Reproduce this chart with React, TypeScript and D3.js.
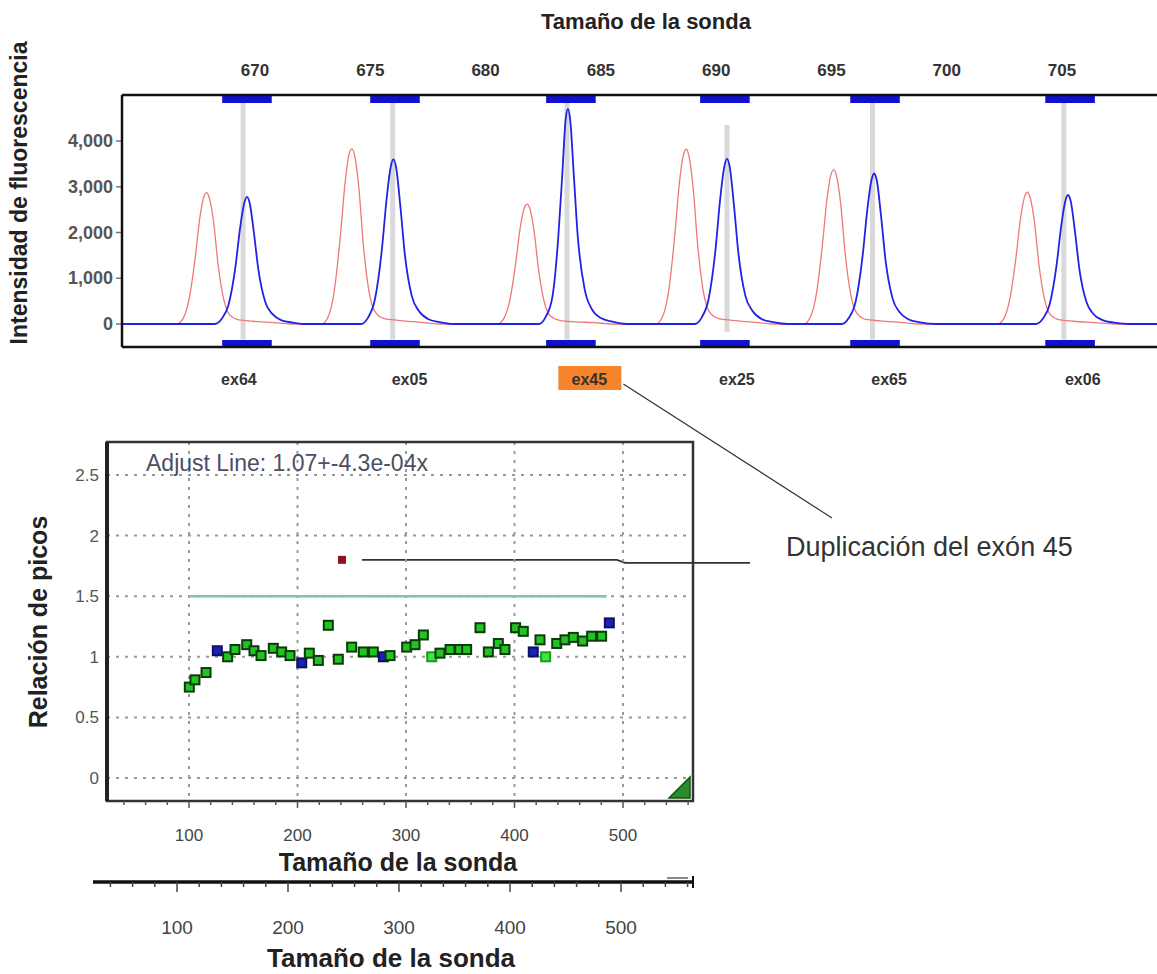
import React from "react";
import * as d3 from "d3";

// electropherogram traces: [probe size (nt), fluorescence]
const redTrace: [number, number][] = [
  [664.2, 0],
  [666.6, 0], [666.9, 140], [667.15, 570], [667.4, 1430], [667.6, 2300], [667.78, 2780], [667.9, 2870],
  [668.02, 2750], [668.2, 2240], [668.4, 1290], [668.65, 520], [668.9, 200], [669.3, 90], [669.9, 60], [670.8, 30], [671.6, 0],
  [672.9, 0], [673.2, 190], [673.45, 770], [673.7, 1920], [673.9, 3060], [674.08, 3720], [674.2, 3830],
  [674.32, 3680], [674.5, 2990], [674.7, 1720], [674.95, 690], [675.2, 270], [675.6, 120], [676.2, 80], [677.1, 40], [678, 0],
  [680.5, 0], [680.8, 130], [681.05, 520], [681.3, 1310], [681.5, 2100], [681.68, 2540], [681.8, 2620],
  [681.92, 2520], [682.1, 2040], [682.3, 1180], [682.55, 470], [682.8, 180], [683.2, 80], [683.8, 50], [684.7, 30], [685.5, 0],
  [687.4, 0], [687.7, 190], [687.95, 760], [688.2, 1910], [688.4, 3060], [688.58, 3700], [688.7, 3820],
  [688.82, 3670], [689.0, 2980], [689.2, 1720], [689.45, 690], [689.7, 270], [690.1, 120], [690.7, 80], [691.6, 40], [692.5, 0],
  [693.8, 0], [694.1, 170], [694.35, 670], [694.6, 1690], [694.8, 2700], [694.98, 3270], [695.1, 3370],
  [695.22, 3240], [695.4, 2630], [695.6, 1520], [695.85, 610], [696.1, 240], [696.5, 100], [697.1, 70], [698.0, 35], [698.9, 0],
  [702.2, 0], [702.5, 140], [702.75, 580], [703.0, 1440], [703.2, 2300], [703.38, 2790], [703.5, 2880],
  [703.62, 2760], [703.8, 2250], [704.0, 1300], [704.25, 520], [704.5, 200], [704.9, 90], [705.5, 60], [706.4, 30], [707.3, 0],
  [709.2, 0],
];

const blueTrace: [number, number][] = [
  [664.2, 0],
  [668.25, 0], [668.55, 110], [668.85, 420], [669.15, 1250], [669.35, 2090], [669.53, 2640], [669.65, 2780],
  [669.77, 2640], [669.95, 2000], [670.15, 1170], [670.45, 470], [670.75, 220], [671.15, 80], [671.65, 30], [672.2, 0],
  [674.6, 0], [674.9, 140], [675.2, 540], [675.5, 1620], [675.7, 2700], [675.88, 3420], [676.0, 3600],
  [676.12, 3420], [676.3, 2590], [676.5, 1510], [676.8, 610], [677.1, 290], [677.5, 110], [678.0, 40], [678.6, 0],
  [682.3, 0], [682.6, 150], [682.9, 600], [683.15, 1880], [683.33, 3300], [683.47, 4460], [683.57, 4700],
  [683.67, 4460], [683.82, 3300], [684.0, 1900], [684.3, 750], [684.6, 330], [685.0, 130], [685.5, 50], [686.1, 0],
  [689.07, 0], [689.37, 140], [689.67, 540], [689.97, 1620], [690.17, 2710], [690.35, 3430], [690.47, 3610],
  [690.59, 3430], [690.77, 2600], [690.97, 1520], [691.27, 610], [691.57, 290], [691.97, 110], [692.47, 40], [693.1, 0],
  [695.45, 0], [695.75, 130], [696.05, 490], [696.35, 1480], [696.55, 2470], [696.73, 3130], [696.85, 3290],
  [696.97, 3130], [697.15, 2370], [697.35, 1380], [697.65, 560], [697.95, 260], [698.35, 100], [698.85, 35], [699.5, 0],
  [703.86, 0], [704.16, 110], [704.46, 420], [704.76, 1270], [704.96, 2120], [705.14, 2680], [705.26, 2820],
  [705.38, 2680], [705.56, 2030], [705.76, 1180], [706.06, 480], [706.36, 220], [706.76, 85], [707.26, 30], [707.9, 0],
  [709.2, 0],
];

const sizeTicks = [670, 675, 680, 685, 690, 695, 700, 705];
const intensityTicks = [0, 1000, 2000, 3000, 4000];

const exonNames = ["ex64", "ex05", "ex45", "ex25", "ex65", "ex06"];
const exonBinCenters = [669.65, 676.07, 683.7, 690.38, 696.89, 705.35];
const exonLabelSizes = [669.3, 676.7, 684.5, 690.9, 697.5, 705.9];
const exonGuideSizes = [669.48, 675.97, 683.53, 690.47, 696.78, 705.08];
const exonGuideTop = [4850, 4850, 4850, 4350, 4850, 4850];
const exonGuideBottom = [-340, -340, -340, -180, -340, -340];
const highlightedExon = "ex45";

// peak ratio plot
const probeSizes = [
  100.3, 105.5, 115.7, 126.1, 135.6, 142.4, 153.2, 159.9, 166.4, 177.7, 185.4, 193.1, 203.9, 210.9, 219.2,
  228.4, 237.6, 249.9, 260.6, 269.9, 279.1, 285.3, 300.6, 308.3, 316, 323.7, 331.3, 340.6, 349.5, 355.9,
  368.2, 375.9, 385.1, 391.2, 401, 408.1, 417.3, 423.5, 428.7, 438.9, 446.5, 454.2, 462.8, 471.1, 480.3, 487.4,
];
const probeRatios = [
  0.75, 0.81, 0.87, 1.05, 1.0, 1.06, 1.1, 1.05, 1.01, 1.07, 1.04, 1.01, 0.95, 1.03, 0.97,
  1.26, 0.98, 1.08, 1.04, 1.04, 1.0, 1.01, 1.08, 1.1, 1.18, 1.0, 1.03, 1.06, 1.06, 1.06,
  1.24, 1.04, 1.11, 1.06, 1.24, 1.21, 1.04, 1.14, 1.0, 1.11, 1.14, 1.16, 1.13, 1.17, 1.17, 1.28,
];
const probeGroup = [
  "g", "g", "g", "b", "g", "g", "g", "g", "g", "g", "g", "g", "b", "g", "g",
  "g", "g", "g", "g", "g", "b", "g", "g", "g", "g", "l", "g", "g", "g", "g",
  "g", "g", "g", "g", "g", "g", "b", "g", "l", "g", "g", "g", "g", "g", "g", "b",
];
const duplicatedProbe: [number, number] = [241, 1.8];
const thresholdRatio = 1.5;
const thresholdRange = [100, 485];
const ratioTicks = [0, 0.5, 1, 1.5, 2, 2.5];
const ratioTickLabels = ["0", "0.5", "1", "1.5", "2", "2.5"];
const probeTicks = [100, 200, 300, 400, 500];
const probeMinorTicks = d3.range(40, 561, 20);

const FONT = "'Liberation Sans', Arial, Helvetica, sans-serif";

export default function App() {
  // top: electropherogram
  const x = d3.scaleLinear().domain([664.23, 709.12]).range([122, 1157]);
  const y = d3.scaleLinear().domain([0, 4000]).range([324, 141]);
  const frameTop = 95;
  const frameBottom = 347;

  const line = d3
    .line<[number, number]>()
    .x((d) => x(d[0]))
    .y((d) => y(d[1]))
    .curve(d3.curveMonotoneX);

  // bottom: ratio plot
  const px = d3.scaleLinear().domain([100, 500]).range([189, 623]);
  const py = d3.scaleLinear().domain([0, 2.5]).range([778, 475]);
  const pLeft = 107, pRight = 693, pTop = 442, pBottom = 801;

  // second size axis
  const ax = d3.scaleLinear().domain([100, 500]).range([177, 621]);
  const axisY = 882;

  const binW = 2.15;
  const hiIdx = exonNames.indexOf(highlightedExon);
  const boxX = x(exonLabelSizes[hiIdx]) - 31;
  const boxRight = boxX + 63;

  const dupX = px(duplicatedProbe[0]);
  const dupY = py(duplicatedProbe[1]);

  return (
    <svg
      width={1157}
      height={974}
      style={{ position: "absolute", left: 0, top: 0, background: "#fff" }}
      fontFamily={FONT}
    >
      {/* ---------- electropherogram ---------- */}
      <text x={646} y={29} textAnchor="middle" fontWeight="bold" fontSize={22} fill="#222">
        Tamaño de la sonda
      </text>
      {sizeTicks.map((t) => (
        <text key={t} x={x(t)} y={76} textAnchor="middle" fontWeight="bold" fontSize={17} fill="#333">
          {t}
        </text>
      ))}
      <text
        transform={`translate(27,193) rotate(-90)`}
        textAnchor="middle"
        fontWeight="bold"
        fontSize={23}
        fill="#222"
      >
        Intensidad de fluorescencia
      </text>
      {intensityTicks.map((t) => (
        <g key={t}>
          <line x1={116} x2={122} y1={y(t)} y2={y(t)} stroke="#777" strokeWidth={1.5} />
          <text x={113} y={y(t) + 6} textAnchor="end" fontWeight="bold" fontSize={18} fill="#555">
            {d3.format(",")(t)}
          </text>
        </g>
      ))}

      {/* guide lines */}
      {exonGuideSizes.map((s, i) => (
        <line
          key={s}
          x1={x(s)}
          x2={x(s)}
          y1={y(exonGuideTop[i])}
          y2={y(exonGuideBottom[i])}
          stroke="#d9d9d9"
          strokeWidth={5}
        />
      ))}

      <path d={line(redTrace) ?? ""} fill="none" stroke="#f07878" strokeWidth={1.3} />
      <path d={line(blueTrace) ?? ""} fill="none" stroke="#2222e6" strokeWidth={1.8} />

      {/* bins */}
      {exonBinCenters.map((c) => (
        <g key={c}>
          <rect x={x(c - binW / 2)} y={frameTop + 1} width={x(c + binW / 2) - x(c - binW / 2)} height={7} fill="#1010d0" />
          <rect x={x(c - binW / 2)} y={frameBottom - 7} width={x(c + binW / 2) - x(c - binW / 2)} height={7} fill="#1010d0" />
        </g>
      ))}

      {/* frame */}
      <line x1={122} x2={1157} y1={frameTop} y2={frameTop} stroke="#111" strokeWidth={2.5} />
      <line x1={122} x2={1157} y1={frameBottom} y2={frameBottom} stroke="#111" strokeWidth={2.5} />
      <line x1={122} x2={122} y1={frameTop} y2={frameBottom} stroke="#111" strokeWidth={2.5} />

      {/* exon labels */}
      <rect x={boxX} y={366} width={boxRight - boxX} height={24} fill="#f5842a" />
      {exonNames.map((n, i) => (
        <text key={n} x={x(exonLabelSizes[i])} y={385} textAnchor="middle" fontWeight="bold" fontSize={16} fill="#333">
          {n}
        </text>
      ))}

      {/* annotation */}
      <line x1={boxRight + 2} y1={384} x2={832} y2={518} stroke="#333" strokeWidth={1.2} />
      <text x={786} y={556} fontSize={27} fill="#333">
        Duplicación del exón 45
      </text>
      <polyline
        points={`${dupX + 20},${dupY} ${dupX + 275},${dupY} ${dupX + 283},${dupY + 3} ${750},${dupY + 3}`}
        fill="none"
        stroke="#333"
        strokeWidth={1.8}
      />

      {/* ---------- ratio plot ---------- */}
      {ratioTicks.map((t) => (
        <line key={t} x1={pLeft} x2={pRight} y1={py(t)} y2={py(t)} stroke="#999" strokeWidth={2} strokeDasharray="3,6" />
      ))}
      {probeTicks.map((t) => (
        <line key={t} x1={px(t)} x2={px(t)} y1={pTop} y2={pBottom} stroke="#999" strokeWidth={2} strokeDasharray="3,6" />
      ))}
      <rect x={pLeft} y={pTop} width={pRight - pLeft} height={pBottom - pTop} fill="none" stroke="#333" strokeWidth={2.5} />
      <line x1={pLeft} x2={pLeft} y1={pTop} y2={pBottom} stroke="#222" strokeWidth={4} />

      <text x={146} y={471} fontSize={23} fill="#4a4f62">
        Adjust Line: 1.07+-4.3e-04x
      </text>

      {ratioTicks.map((t, i) => (
        <text key={t} x={99} y={py(t) + 6} textAnchor="end" fontSize={17} fill="#555">
          {ratioTickLabels[i]}
        </text>
      ))}
      <text
        transform={`translate(47,622) rotate(-90)`}
        textAnchor="middle"
        fontWeight="bold"
        fontSize={25}
        fill="#222"
      >
        Relación de picos
      </text>

      <line
        x1={px(thresholdRange[0])}
        x2={px(thresholdRange[1])}
        y1={py(thresholdRatio)}
        y2={py(thresholdRatio)}
        stroke="#7cc8a4"
        strokeWidth={2.5}
      />

      {probeSizes.map((s, i) => {
        const g = probeGroup[i];
        const fill = g === "b" ? "#1c20b8" : g === "l" ? "#3ee83e" : "#22c422";
        const stroke = g === "b" ? "#101060" : g === "l" ? "#1e9a1e" : "#0b3a0b";
        return (
          <rect
            key={i}
            x={px(s) - 4.5}
            y={py(probeRatios[i]) - 4.5}
            width={9}
            height={9}
            fill={fill}
            stroke={stroke}
            strokeWidth={2}
          />
        );
      })}
      <rect x={dupX - 4} y={dupY - 4} width={8} height={8} fill="#8a1420" />

      {/* corner marker */}
      <polygon points={`${pRight - 24},${pBottom - 3} ${pRight - 3},${pBottom - 3} ${pRight - 3},${pBottom - 24}`} fill="#2a8c2a" stroke="#145214" strokeWidth={1.5} />

      {probeMinorTicks.map((t) => (
        <line key={t} x1={px(t)} x2={px(t)} y1={pBottom} y2={pBottom + (t % 100 === 0 ? 7 : 4)} stroke="#555" strokeWidth={1.5} />
      ))}
      {probeTicks.map((t) => (
        <text key={t} x={px(t)} y={841} textAnchor="middle" fontSize={17} fill="#444">
          {t}
        </text>
      ))}
      <text x={398} y={871} textAnchor="middle" fontWeight="bold" fontSize={25} fill="#222">
        Tamaño de la sonda
      </text>

      {/* ---------- second size axis ---------- */}
      <line x1={93} x2={693} y1={axisY} y2={axisY} stroke="#111" strokeWidth={3.5} />
      <line x1={693} x2={693} y1={axisY - 6} y2={axisY + 6} stroke="#111" strokeWidth={2} />
      <line x1={667} x2={688} y1={axisY - 4} y2={axisY - 4} stroke="#888" strokeWidth={2} />
      {probeMinorTicks.map((t) => (
        <line key={t} x1={ax(t)} x2={ax(t)} y1={axisY} y2={axisY + (t % 100 === 0 ? 10 : 5)} stroke="#444" strokeWidth={1.5} />
      ))}
      {probeTicks.map((t) => (
        <text key={t} x={ax(t)} y={934} textAnchor="middle" fontSize={19} fill="#444">
          {t}
        </text>
      ))}
      <text x={391} y={967} textAnchor="middle" fontWeight="bold" fontSize={26} fill="#222">
        Tamaño de la sonda
      </text>
    </svg>
  );
}
